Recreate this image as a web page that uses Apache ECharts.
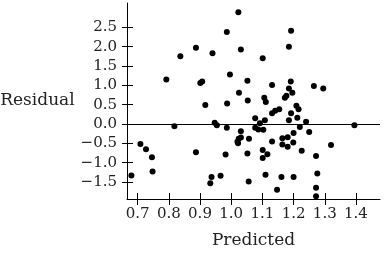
<!DOCTYPE html>
<html><head><meta charset="utf-8">
<script src="https://cdn.jsdelivr.net/npm/echarts@6/dist/echarts.min.js"></script>
<style>html,body{margin:0;padding:0;background:#fff}#c{width:384px;height:256px}</style>
</head><body><div id="c"></div>
<script>
const predicted = [1.023,0.986,1.192,0.887,1.185,0.940,1.031,0.837,1.101,0.792,0.901,0.907,0.996,1.052,1.131,1.191,1.185,1.196,1.265,1.295,1.025,1.053,1.106,1.111,1.172,1.177,0.917,0.987,1.209,1.216,1.154,1.141,1.131,1.192,1.077,1.108,1.185,1.212,1.240,1.092,0.947,0.954,0.818,0.986,1.077,1.087,1.103,1.220,1.250,1.395,1.031,1.200,1.024,1.031,1.020,1.057,1.022,1.164,1.131,1.181,1.199,1.164,1.181,1.320,0.709,0.727,0.746,0.748,0.680,0.887,0.982,1.052,1.101,1.116,1.101,1.226,1.272,0.937,0.966,0.933,1.056,1.110,1.161,1.200,1.276,1.147,1.272,1.272];
const residual = [2.89,2.38,2.41,1.97,2.00,1.83,1.93,1.75,1.70,1.15,1.06,1.10,1.28,1.12,1.01,1.10,0.92,0.81,0.98,0.92,0.81,0.61,0.68,0.57,0.68,0.73,0.49,0.53,0.47,0.38,0.38,0.34,0.28,0.28,0.15,0.10,0.10,0.16,0.06,0.02,0.03,-0.03,-0.06,-0.10,-0.10,-0.14,-0.15,-0.08,-0.21,-0.03,-0.19,-0.23,-0.38,-0.35,-0.46,-0.38,-0.50,-0.37,-0.45,-0.34,-0.48,-0.53,-0.59,-0.54,-0.52,-0.65,-0.86,-1.23,-1.33,-0.73,-0.79,-0.76,-0.67,-0.78,-0.88,-0.69,-0.83,-1.37,-1.34,-1.53,-1.49,-1.31,-1.37,-1.37,-1.28,-1.70,-1.65,-1.87];
const xTicks = [0.7,0.8,0.9,1.0,1.1,1.2,1.3,1.4];
const yTicks = [-1.5,-1.0,-0.5,0.0,0.5,1.0,1.5,2.0,2.5];
const xName = 'Predicted', yName = 'Residual';

const FONT = 'DejaVu Serif';
const fmt = v => v.toFixed(1).replace('-', '\u2212');
const XMIN = 0.666, XMAX = 1.477, YMIN = -1.94, YMAX = 3.13;
const data = predicted.map((p, i) => [p, residual[i]]);
const chart = echarts.init(document.getElementById('c'));
chart.setOption({
  animation: false,
  grid: {left: 127, right: 4, top: 3, bottom: 57, containLabel: false, outerBoundsMode: 'none'},
  xAxis: [{
    type: 'value', min: XMIN, max: XMAX,
    name: xName, nameLocation: 'middle', nameGap: 33,
    nameTextStyle: {fontFamily: FONT, fontSize: 17, color: '#222'},
    axisLine: {show: true, onZero: false, lineStyle: {color: '#000'}},
    axisTick: {show: true, length: 6, lineStyle: {color: '#000'}, customValues: xTicks},
    axisLabel: {fontFamily: FONT, fontSize: 15, color: '#222', margin: 8, customValues: xTicks, formatter: fmt},
    splitLine: {show: false}
  }, {
    type: 'value', min: XMIN, max: XMAX, position: 'bottom',
    axisLine: {show: true, onZero: false, lineStyle: {color: 'rgba(0,0,0,0)'}},
    axisTick: {show: true, length: 6, inside: true, lineStyle: {color: '#000'}, customValues: xTicks},
    axisLabel: {show: false}, splitLine: {show: false}
  }],
  yAxis: [{
    type: 'value', min: YMIN, max: YMAX,
    name: yName, nameLocation: 'middle', nameGap: 50, nameRotate: 0,
    nameTextStyle: {fontFamily: FONT, fontSize: 17, color: '#222', align: 'right'},
    axisLine: {show: true, onZero: false, lineStyle: {color: '#000'}},
    axisTick: {show: true, length: 5, lineStyle: {color: '#000'}, customValues: yTicks},
    axisLabel: {fontFamily: FONT, fontSize: 15, color: '#222', margin: 10, customValues: yTicks, formatter: fmt},
    splitLine: {show: false}
  }, {
    type: 'value', min: YMIN, max: YMAX, position: 'left',
    axisLine: {show: true, onZero: false, lineStyle: {color: 'rgba(0,0,0,0)'}},
    axisTick: {show: true, length: 6, inside: true, lineStyle: {color: '#000'}, customValues: yTicks},
    axisLabel: {show: false}, splitLine: {show: false}
  }],
  series: [{
    type: 'scatter', xAxisIndex: 0, yAxisIndex: 0, data: data,
    symbolSize: 6, itemStyle: {color: '#000', opacity: 1},
    markLine: {silent: true, symbol: 'none', label: {show: false},
      lineStyle: {color: '#000', width: 1, type: 'solid'},
      data: [{yAxis: 0}]}
  }]
});
</script></body></html>
